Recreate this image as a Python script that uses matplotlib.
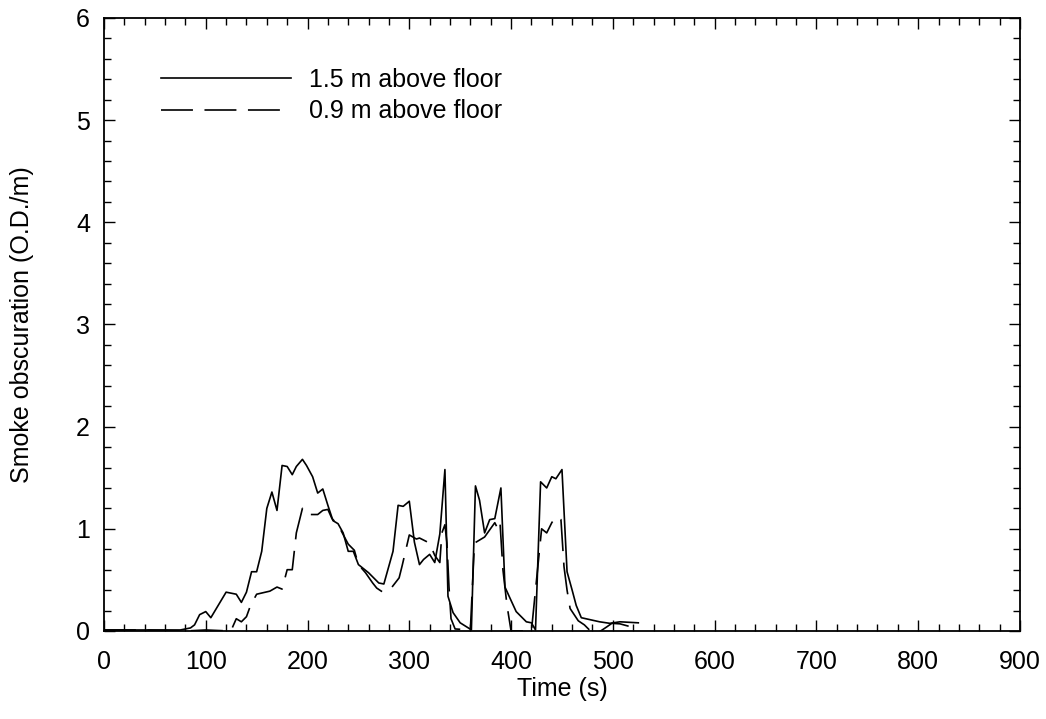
import matplotlib
matplotlib.use("Agg")
import matplotlib.pyplot as plt
from matplotlib.ticker import MultipleLocator

plt.rcParams['font.family'] = ['Liberation Sans', 'DejaVu Sans']
plt.rcParams['lines.scale_dashes'] = False

# 1.5 m above floor
t_high = [0, 20, 40, 60, 75, 80, 85, 89, 94, 100, 105, 120, 130, 135, 140, 145, 150, 155,
          160, 165, 170, 175, 180, 185, 189, 195, 199, 205, 210, 215, 220, 225, 230, 235,
          240, 245, 250, 255, 260, 265, 270, 275, 284, 289, 294, 300, 305, 310, 314, 320,
          325, 330, 335, 338, 343, 350, 358, 361, 365, 369, 374, 379, 384, 390, 394, 399,
          405, 415, 420, 424, 429, 435, 440, 444, 450, 455, 460, 464, 469, 478, 487, 497,
          507, 525]
y_high = [0.01, 0.01, 0.01, 0.01, 0.01, 0.02, 0.03, 0.06, 0.16, 0.19, 0.13, 0.38, 0.36, 0.28,
          0.38, 0.58, 0.58, 0.78, 1.20, 1.36, 1.18, 1.62, 1.61, 1.53, 1.61, 1.68, 1.62, 1.51,
          1.35, 1.39, 1.23, 1.08, 1.05, 0.96, 0.78, 0.78, 0.65, 0.61, 0.57, 0.52, 0.47, 0.46,
          0.78, 1.23, 1.22, 1.27, 0.87, 0.65, 0.70, 0.75, 0.67, 0.95, 1.58, 0.34, 0.18, 0.08,
          0.03, 0.01, 1.42, 1.28, 0.96, 1.09, 1.10, 1.40, 0.43, 0.32, 0.19, 0.09, 0.08, 0.01,
          1.46, 1.40, 1.51, 1.49, 1.58, 0.58, 0.40, 0.25, 0.13, 0.11, 0.09, 0.075, 0.09, 0.08]

# 0.9 m above floor
t_low = [0, 40, 80, 100, 124, 126, 130, 135, 140, 144, 150, 163, 170, 175, 180, 185, 189,
         195, 199, 210, 215, 220, 224, 227, 231, 240, 246, 250, 257, 264, 268, 274, 283,
         290, 293, 300, 307, 310, 320, 325, 330, 332, 335, 337, 339, 341, 345, 360, 364,
         374, 379, 384, 386, 389, 392, 396, 400, 420, 425, 430, 435, 440, 444, 449, 452,
         455, 458, 466, 472, 478, 485, 494, 499, 507, 518]
y_low = [0.01, 0.01, 0.0, 0.01, 0.0, 0.03, 0.12, 0.09, 0.14, 0.25, 0.36, 0.39, 0.43, 0.41,
         0.60, 0.60, 0.96, 1.20, 1.14, 1.14, 1.18, 1.19, 1.10, 1.07, 1.02, 0.85, 0.79, 0.65,
         0.57, 0.47, 0.42, 0.38, 0.43, 0.52, 0.64, 0.94, 0.90, 0.91, 0.86, 0.74, 0.67, 0.96,
         1.04, 0.86, 0.43, 0.12, 0.02, 0.01, 0.86, 0.92, 0.99, 1.06, 1.02, 1.08, 0.60, 0.25,
         0.0, 0.0, 0.5, 1.0, 0.96, 1.06, 1.12, 1.09, 0.63, 0.40, 0.22, 0.10, 0.06, 0.0, -0.02,
         0.04, 0.075, 0.07, 0.04]

FS = 18

fig = plt.figure(figsize=(10.46, 7.19), dpi=100)
ax = fig.add_axes([0.0994, 0.1224, 0.8757, 0.8526])

ax.plot(t_high, y_high, color='black', lw=1.2, label='1.5 m above floor')
ax.plot(t_low, y_low, color='black', lw=1.2, dashes=(23, 8.3), label='0.9 m above floor')

ax.set_xlim(0, 900)
ax.set_ylim(0, 6)
ax.xaxis.set_major_locator(MultipleLocator(100))
ax.xaxis.set_minor_locator(MultipleLocator(20))
ax.yaxis.set_major_locator(MultipleLocator(1))
ax.yaxis.set_minor_locator(MultipleLocator(0.2))
ax.tick_params(which='both', direction='in', top=True, right=True, labelsize=FS, width=1.0)
ax.tick_params(which='major', length=8, pad=10)
ax.tick_params(axis='x', which='major', pad=14)
ax.tick_params(which='minor', length=5)
for s in ax.spines.values():
    s.set_linewidth(1.3)

ax.set_xlabel('Time (s)', fontsize=FS, labelpad=2)
ax.set_ylabel('Smoke obscuration (O.D./m)', fontsize=FS, labelpad=30)

ax.legend(loc='upper left', bbox_to_anchor=(0.051, 0.935), frameon=False, fontsize=FS,
          handlelength=5.2, handletextpad=0.75, labelspacing=0.3, borderaxespad=0)

fig.savefig('out.png', dpi=100)
